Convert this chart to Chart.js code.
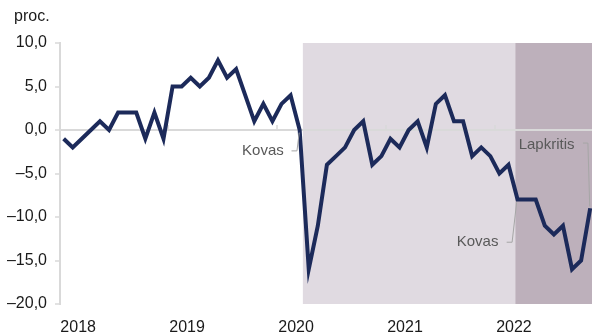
<!DOCTYPE html>
<html lang="lt">
<head>
<meta charset="utf-8">
<script src="https://cdn.jsdelivr.net/npm/chart.js@4.4.1/dist/chart.umd.min.js"></script>
<style>
  html, body { margin: 0; padding: 0; background: #fff; }
  #wrap { width: 592px; height: 333px; position: relative; }
</style>
</head>
<body>
<div id="wrap"><canvas id="chart"></canvas></div>
<script>
// Monthly series, Jan 2018 - Nov 2022, proc.
const months = [
  '2018-01','2018-02','2018-03','2018-04','2018-05','2018-06','2018-07','2018-08','2018-09','2018-10','2018-11','2018-12',
  '2019-01','2019-02','2019-03','2019-04','2019-05','2019-06','2019-07','2019-08','2019-09','2019-10','2019-11','2019-12',
  '2020-01','2020-02','2020-03','2020-04','2020-05','2020-06','2020-07','2020-08','2020-09','2020-10','2020-11','2020-12',
  '2021-01','2021-02','2021-03','2021-04','2021-05','2021-06','2021-07','2021-08','2021-09','2021-10','2021-11','2021-12',
  '2022-01','2022-02','2022-03','2022-04','2022-05','2022-06','2022-07','2022-08','2022-09','2022-10','2022-11'
];
const values = [
  -1, -2, -1, 0, 1, 0, 2, 2, 2, -1, 2, -1,
  5, 5, 6, 5, 6, 8, 6, 7, 4, 1, 3, 1,
  3, 4, 0, -16, -11, -4, -3, -2, 0, 1, -4, -3,
  -1, -2, 0, 1, -2, 3, 4, 1, 1, -3, -2, -3,
  -5, -4, -8, -8, -8, -11, -12, -11, -16, -15, -9
];
const yTicks = [-20, -15, -10, -5, 0, 5, 10];
const yearLabels = ['2018', '2019', '2020', '2021', '2022'];
const yearLabelAt = [1.6, 13.6, 25.6, 37.6, 49.6];   // month index under each year label
const yearBounds = [11.5, 23.5, 35.5, 47.5];          // Dec/Jan boundaries
// shaded periods, in month index
const periodFrom = [26.35, 49.75];
const periodTo = [49.75, 58.2];
const noteTexts = ['Kovas', 'Kovas', 'Lapkritis'];

const shadeColors = ['#e0dae1', '#bdb0bb'];
// note text centre and leader path, in data units
const noteLayout = [
  { x: 21.95, y: -2.4, path: [[25.1, -2.4], [25.7, -2.4], [25.95, -0.3]] },
  { x: 45.6, y: -12.9, path: [[48.8, -12.9], [49.4, -12.9], [49.9, -8.3]] },
  { x: 53.2, y: -1.7, path: [[57.2, -1.5], [57.75, -1.5], [57.95, -8.8]] }
];

const fmt = v => (v < 0 ? '\u2013' : '') + Math.abs(v).toFixed(1).replace('.', ',');

const backdrop = {
  id: 'backdrop',
  beforeDraw(chart) {
    const { ctx, chartArea: a, scales: { x, y } } = chart;
    ctx.save();
    periodFrom.forEach((from, k) => {
      const x0 = x.getPixelForValue(from);
      const x1 = Math.min(x.getPixelForValue(periodTo[k]), a.right);
      ctx.fillStyle = shadeColors[k];
      ctx.fillRect(x0, a.top, x1 - x0, a.bottom - a.top);
    });
    ctx.restore();
  },
  beforeDatasetsDraw(chart) {
    // small year marks on the zero line
    const { ctx, scales: { x, y } } = chart;
    const y0 = y.getPixelForValue(0);
    ctx.save();
    ctx.strokeStyle = '#d9d9d9';
    ctx.lineWidth = 1.5;
    yearBounds.forEach(b => {
      const px = Math.round(x.getPixelForValue(b));
      ctx.beginPath();
      ctx.moveTo(px, y0 - 5);
      ctx.lineTo(px, y0);
      ctx.stroke();
    });
    ctx.restore();
  },
  afterDraw(chart) {
    const { ctx, scales: { x, y } } = chart;
    ctx.save();
    ctx.font = '16px "Liberation Sans", Arial, sans-serif';
    ctx.fillStyle = '#1a1a1a';
    ctx.textBaseline = 'middle';
    ctx.fillText('proc.', 14, 17);

    ctx.font = '15px "Liberation Sans", Arial, sans-serif';
    ctx.textAlign = 'center';
    noteLayout.forEach((n, k) => {
      ctx.strokeStyle = '#a6a6a6';
      ctx.lineWidth = 1;
      ctx.beginPath();
      n.path.forEach(([px, py], j) => {
        const X = x.getPixelForValue(px), Y = y.getPixelForValue(py);
        j ? ctx.lineTo(X, Y) : ctx.moveTo(X, Y);
      });
      ctx.stroke();
      ctx.fillStyle = '#595959';
      ctx.fillText(noteTexts[k], x.getPixelForValue(n.x), y.getPixelForValue(n.y));
    });
    ctx.restore();
  }
};

Chart.defaults.font.family = '"Liberation Sans", Arial, sans-serif';

new Chart(document.getElementById('chart'), {
  type: 'line',
  data: {
    labels: months,
    datasets: [{
      data: values.map((v, i) => ({ x: i, y: v })),
      borderColor: '#1c2a5a',
      borderWidth: 4,
      pointRadius: 0,
      tension: 0,
      clip: false
    }]
  },
  options: {
    responsive: true,
    maintainAspectRatio: false,
    animation: false,
    layout: { padding: { top: 43, right: 0, left: 0, bottom: 0 } },
    plugins: { legend: { display: false }, tooltip: { enabled: false } },
    scales: {
      x: {
        type: 'linear',
        min: -0.4,
        max: 58.2,
        grid: { display: false, drawTicks: false },
        border: { display: false },
        afterBuildTicks: s => { s.ticks = yearLabelAt.map(v => ({ value: v })); },
        ticks: {
          autoSkip: false, maxRotation: 0, padding: 14, color: '#1a1a1a',
          font: { size: 16 },
          callback: (v, i) => yearLabels[i]
        },
        afterFit: s => { s.height = 29; }
      },
      y: {
        min: -20,
        max: 10,
        afterBuildTicks: s => { s.ticks = yTicks.map(v => ({ value: v })); },
        grid: {
          color: c => (c.tick && c.tick.value === 0 ? '#d9d9d9' : 'rgba(0,0,0,0)'),
          lineWidth: 2,
          tickColor: '#d9d9d9',
          tickWidth: 1.5,
          tickLength: 5
        },
        border: { color: '#d9d9d9', width: 2 },
        ticks: { padding: 8, color: '#1a1a1a', font: { size: 16 }, callback: v => fmt(v) },
        afterFit: s => { s.width = 60; }
      }
    }
  },
  plugins: [backdrop]
});
</script>
</body>
</html>
